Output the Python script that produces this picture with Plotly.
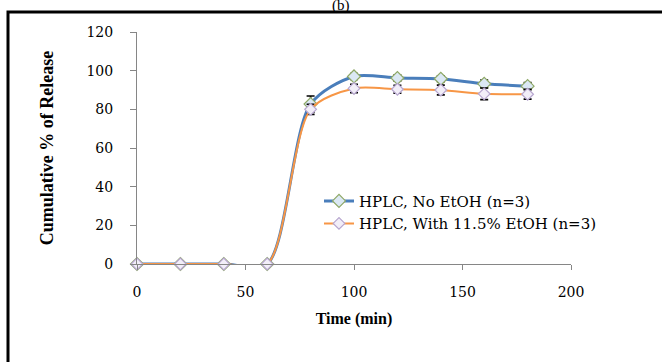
import plotly.graph_objects as go

time_min = [0, 20, 40, 60, 80, 100, 120, 140, 160, 180]
no_etoh = [0, 0, 0, 0, 82.7, 97.0, 96.2, 95.8, 93.2, 92.0]
no_etoh_err = [0, 0, 0, 0, 4.2, 1.5, 1.5, 1.5, 2.0, 1.8]
with_etoh = [0, 0, 0, 0, 80.0, 90.8, 90.4, 90.0, 88.0, 87.8]
with_etoh_err = [0, 0, 0, 0, 2.6, 2.2, 2.0, 2.5, 3.0, 2.5]

x_ticks = [0, 50, 100, 150, 200]
y_ticks = [0, 20, 40, 60, 80, 100, 120]

serif = "Liberation Serif, Times New Roman, serif"
wide = "DejaVu Serif, serif"

fig = go.Figure()
fig.add_trace(go.Scatter(
    x=time_min, y=no_etoh, name="HPLC, No EtOH (n=3)",
    mode="lines+markers",
    line=dict(color="#4a7ebb", width=3, shape="spline", smoothing=0.8),
    marker=dict(symbol="diamond", size=10, color="#dbe8f4",
                line=dict(color="#8ea866", width=1.2)),
    error_y=dict(type="data", array=no_etoh_err, visible=True,
                 color="black", thickness=1.6, width=4),
    cliponaxis=False,
))
fig.add_trace(go.Scatter(
    x=time_min, y=with_etoh, name="HPLC, With 11.5% EtOH (n=3)",
    mode="lines+markers",
    line=dict(color="#f79646", width=2, shape="spline", smoothing=0.8),
    marker=dict(symbol="diamond", size=9, color="#f2eef8",
                line=dict(color="#b7a6cf", width=1.2)),
    error_y=dict(type="data", array=with_etoh_err, visible=True,
                 color="black", thickness=1.6, width=4),
    cliponaxis=False,
))

L, R, T, B = 137, 91, 32, 97.5
W, H = 662, 362
pw, ph = W - L - R, H - T - B

def px_to_paper_x(px):
    return (px - L) / pw

def px_to_paper_y(py):
    return (H - B - py) / ph

fig.add_shape(type="rect", xref="paper", yref="paper",
              x0=px_to_paper_x(8), x1=px_to_paper_x(700),
              y0=px_to_paper_y(400), y1=px_to_paper_y(12),
              line=dict(color="black", width=3), fillcolor="rgba(0,0,0,0)",
              layer="below")

fig.add_annotation(text="(b)", xref="paper", yref="paper",
                   x=px_to_paper_x(341), y=px_to_paper_y(-5),
                   showarrow=False, font=dict(family=serif, size=15, color="black"))

fig.update_layout(
    width=W, height=H,
    margin=dict(l=L, r=R, t=T, b=B),
    paper_bgcolor="white", plot_bgcolor="white",
    font=dict(family=serif, size=13, color="black"),
    showlegend=True,
    legend=dict(x=px_to_paper_x(319), y=px_to_paper_y(185), xanchor="left", yanchor="top",
                bgcolor="rgba(0,0,0,0)", font=dict(family=wide, size=15),
                tracegroupgap=0, itemwidth=30),
    xaxis=dict(range=[0, 200], tickvals=x_ticks, showgrid=False, zeroline=False,
               showline=True, linecolor="#868686", linewidth=1,
               ticks="outside", ticklen=5, tickcolor="#868686",
               ticklabelstandoff=10,
               tickfont=dict(family=wide, size=14),
               title=dict(text="<b>Time (min)</b>", font=dict(family=serif, size=16), standoff=14)),
    yaxis=dict(range=[0, 120], tickvals=y_ticks, showgrid=False, zeroline=False,
               showline=True, linecolor="#868686", linewidth=1,
               ticks="outside", ticklen=6, tickcolor="#868686",
               ticklabelstandoff=14,
               tickfont=dict(family=wide, size=14),
               title=dict(text="<b>Cumulative % of Release</b>", font=dict(family=serif, size=18), standoff=28)),
)

fig.write_html("out.html")
